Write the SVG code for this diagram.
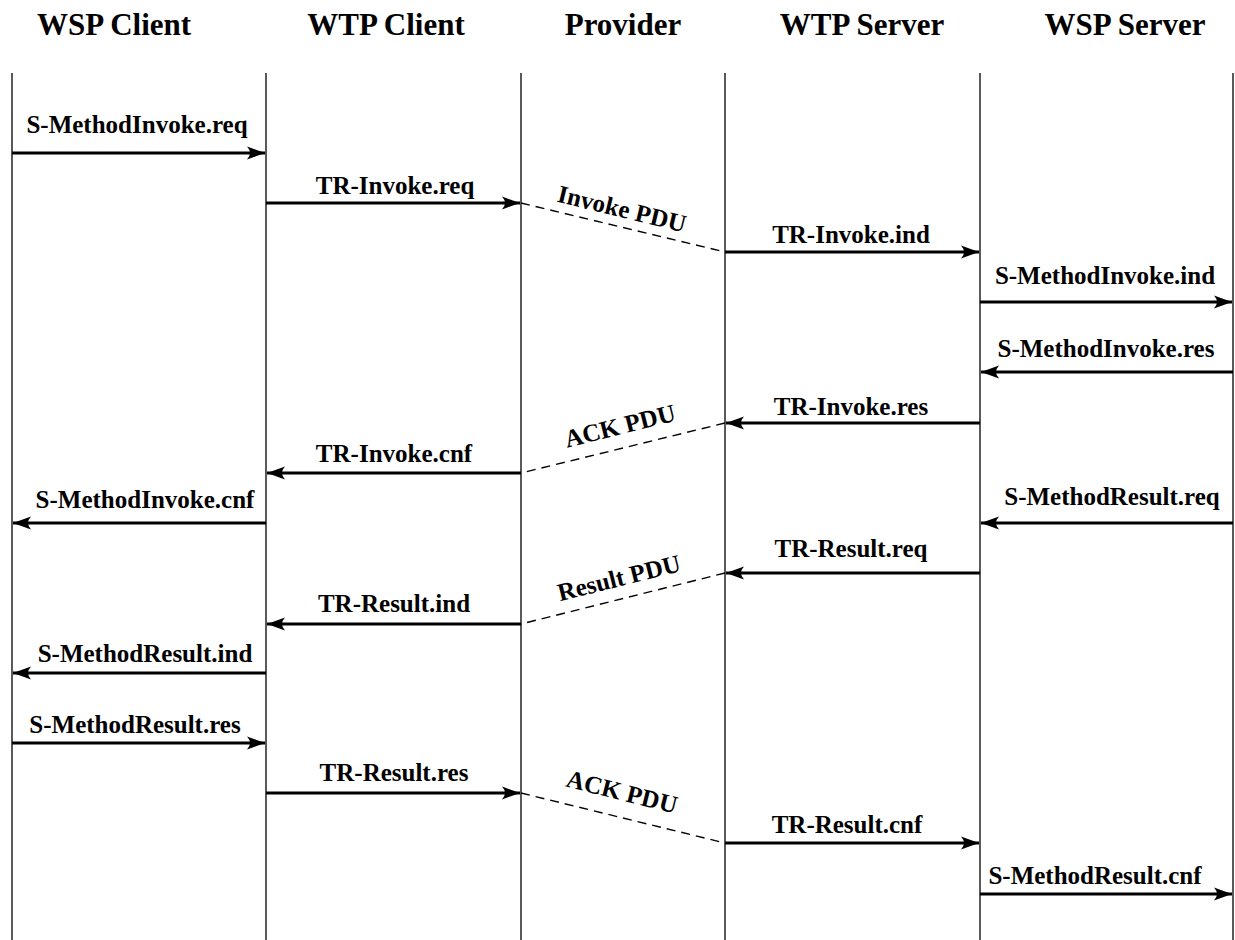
<svg xmlns="http://www.w3.org/2000/svg" width="1235" height="940" viewBox="0 0 1235 940">
<style>
.hdr{font-family:"Liberation Serif","Times New Roman",serif;font-weight:bold;font-size:31px;fill:#000;text-anchor:middle}
.lbl{font-family:"Liberation Serif","Times New Roman",serif;font-weight:bold;font-size:25px;fill:#000;text-anchor:middle}
.life{stroke:#000;stroke-width:1.3;fill:none}
.msg{stroke:#000;stroke-width:2.8;fill:none;marker-end:url(#ah)}
.pdu{stroke:#000;stroke-width:1.4;fill:none;stroke-dasharray:9 6}
</style>
<defs>
<marker id="ah" markerUnits="userSpaceOnUse" viewBox="-19 -8 20 16" refX="0" refY="0" markerWidth="20" markerHeight="16" orient="auto">
<path d="M0,0 L-18,-6.5 Q-12,0 -18,6.5 Z" fill="#000"/>
</marker>
</defs>
<rect width="1235" height="940" fill="#fff"/>
<g id="wsp-client"><text class="hdr" x="114" y="35">WSP Client</text><line class="life" x1="12" y1="73" x2="12" y2="940"/></g>
<g id="wtp-client"><text class="hdr" x="386" y="35">WTP Client</text><line class="life" x1="266" y1="73" x2="266" y2="940"/></g>
<g id="provider"><text class="hdr" x="623" y="35">Provider</text><line class="life" x1="521" y1="73" x2="521" y2="940"/></g>
<g id="wtp-server"><text class="hdr" x="862" y="35">WTP Server</text><line class="life" x1="725" y1="73" x2="725" y2="940"/></g>
<g id="wsp-server"><text class="hdr" x="1125" y="35">WSP Server</text><line class="life" x1="980" y1="73" x2="980" y2="940"/><line class="life" x1="1233" y1="73" x2="1233" y2="940"/></g>
<g id="connectors">
<line class="msg" x1="12" y1="153" x2="265" y2="153"/>
<text class="lbl" x="137" y="133">S-MethodInvoke.req</text>
<line class="msg" x1="266" y1="203" x2="520" y2="203"/>
<text class="lbl" x="395" y="194">TR-Invoke.req</text>
<line class="pdu" x1="521" y1="203" x2="725" y2="252"/>
<text class="lbl" transform="translate(620,217) rotate(13.6)" x="0" y="0">Invoke PDU</text>
<line class="msg" x1="725" y1="252" x2="979" y2="252"/>
<text class="lbl" x="851" y="243">TR-Invoke.ind</text>
<line class="msg" x1="980" y1="302" x2="1232" y2="302"/>
<text class="lbl" x="1105" y="284">S-MethodInvoke.ind</text>
<line class="msg" x1="1233" y1="372" x2="981" y2="372"/>
<text class="lbl" x="1106" y="357">S-MethodInvoke.res</text>
<line class="msg" x1="980" y1="423" x2="726" y2="423"/>
<text class="lbl" x="851" y="415">TR-Invoke.res</text>
<line class="pdu" x1="725" y1="423" x2="521" y2="473"/>
<text class="lbl" transform="translate(622,434) rotate(-14)" x="0" y="0">ACK PDU</text>
<line class="msg" x1="521" y1="473" x2="267" y2="473"/>
<text class="lbl" x="394" y="462">TR-Invoke.cnf</text>
<line class="msg" x1="266" y1="523" x2="13" y2="523"/>
<text class="lbl" x="145" y="508">S-MethodInvoke.cnf</text>
<line class="msg" x1="1233" y1="523" x2="981" y2="523"/>
<text class="lbl" x="1112" y="505">S-MethodResult.req</text>
<line class="msg" x1="980" y1="573" x2="726" y2="573"/>
<text class="lbl" x="851" y="557">TR-Result.req</text>
<line class="pdu" x1="725" y1="573" x2="521" y2="624"/>
<text class="lbl" transform="translate(621,586) rotate(-14)" x="0" y="0">Result PDU</text>
<line class="msg" x1="521" y1="624" x2="267" y2="624"/>
<text class="lbl" x="394" y="612">TR-Result.ind</text>
<line class="msg" x1="266" y1="673" x2="13" y2="673"/>
<text class="lbl" x="145" y="662">S-MethodResult.ind</text>
<line class="msg" x1="12" y1="743" x2="265" y2="743"/>
<text class="lbl" x="135" y="733">S-MethodResult.res</text>
<line class="msg" x1="266" y1="793" x2="520" y2="793"/>
<text class="lbl" x="394" y="781">TR-Result.res</text>
<line class="pdu" x1="521" y1="793" x2="725" y2="843"/>
<text class="lbl" transform="translate(620,800) rotate(14)" x="0" y="0">ACK PDU</text>
<line class="msg" x1="725" y1="843" x2="979" y2="843"/>
<text class="lbl" x="847" y="833">TR-Result.cnf</text>
<line class="msg" x1="980" y1="894" x2="1232" y2="894"/>
<text class="lbl" x="1095" y="884">S-MethodResult.cnf</text>
</g>
</svg>
